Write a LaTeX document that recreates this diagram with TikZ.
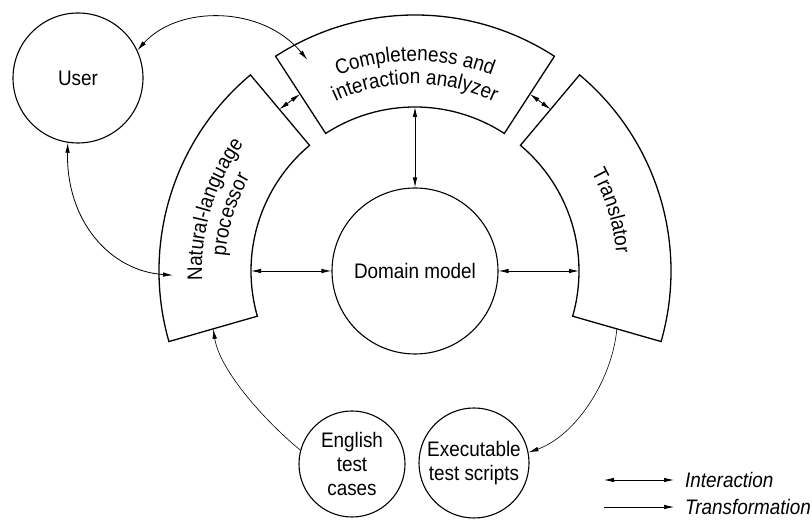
\documentclass[tikz,border=0pt]{standalone}
\usepackage{fontspec}
\setmainfont[FakeStretch=0.9]{Liberation Sans}
\usetikzlibrary{arrows.meta,calc,decorations.text}
\newcommand\dfont{\fontsize{21}{24}\selectfont}
\begin{document}
\begin{tikzpicture}[x=1pt,y=1pt,
  seg/.style={line width=1.3pt, line join=miter},
  circ/.style={draw, circle, line width=1.1pt, inner sep=0pt, align=center, font=\dfont},
  tip/.tip={Latex[length=10pt,width=4.5pt]},
  inter/.style={tip-tip, line width=0.8pt},
  trans/.style={-tip, line width=0.6pt},
  curvtext/.style={decorate, decoration={text along path, text align=center, text={|\dfont|#1}}}
]
\useasboundingbox (0,0) rectangle (812,521);
\coordinate (C) at (415,250);

% ring segments
\draw[seg] ($(C)+(57:164)$) arc[start angle=57,end angle=123,radius=164pt]
  -- ($(C)+(123:256)$) arc[start angle=123,end angle=57,radius=256pt] -- cycle;
\draw[seg] ($(C)+(130:164)$) arc[start angle=130,end angle=196,radius=164pt]
  -- ($(C)+(196:256)$) arc[start angle=196,end angle=130,radius=256pt] -- cycle;
\draw[seg] ($(C)+(-16:164)$) arc[start angle=-16,end angle=50,radius=164pt]
  -- ($(C)+(50:256)$) arc[start angle=50,end angle=-16,radius=256pt] -- cycle;

% segment labels
\path[curvtext={Completeness and}] ($(C)+(123:210)$) arc[start angle=123,end angle=57,radius=210pt];
\path[curvtext={interaction analyzer}] ($(C)+(123:187)$) arc[start angle=123,end angle=57,radius=187pt];
\path[curvtext={Natural-language}] ($(C)+(196:213)$) arc[start angle=196,end angle=130,radius=213pt];
\path[curvtext={processor}] ($(C)+(196:190)$) arc[start angle=196,end angle=130,radius=190pt];
\path[curvtext={Translator}] ($(C)+(50:202)$) arc[start angle=50,end angle=-16,radius=202pt];

% circles
\node[circ, minimum size=130pt] (user) at (78,443) {User};
\node[circ, minimum size=166pt] (dom) at (C) {Domain model};
\node[circ, minimum size=106pt] (eng) at (352,57) {English\\test\\cases};
\node[circ, minimum size=110pt] (exe) at (474,58) {Executable\\test scripts};

% connector end points
\coordinate (nlpTop) at ($(C)+(130:211)$);
\coordinate (anL) at ($(C)+(123:211)$);
\coordinate (anR) at ($(C)+(57:211)$);
\coordinate (trTop) at ($(C)+(50:211)$);
\coordinate (anIn) at ($(C)+(90:164)$);
\coordinate (nlpIn) at ($(C)+(180:164)$);
\coordinate (trIn) at ($(C)+(0:164)$);
\coordinate (anUser) at ($(C)+(117:237)$);
\coordinate (nlpUser) at ($(C)+(181:242)$);
\coordinate (nlpBot) at ($(C)+(196:210)$);
\coordinate (trBot) at ($(C)+(-16:210)$);

% connectors
\draw[inter] (user.25) .. controls (178,516) and (262,516) .. (anUser);
\draw[inter] (user.261) .. controls (66,300) and (110,250) .. (nlpUser);
\draw[inter] (nlpTop) -- (anL);
\draw[inter] (anR) -- (trTop);
\draw[inter] (anIn) -- (dom.north);
\draw[inter] (nlpIn) -- (dom.west);
\draw[inter] (dom.east) -- (trIn);
\draw[trans] (eng.165) .. controls (265,100) and (220,150) .. (nlpBot);
\draw[trans] (trBot) .. controls (612,140) and (575,85) .. (exe.11);

% legend
\coordinate (l1a) at (604,41);
\coordinate (l1b) at (674,41);
\coordinate (l2a) at (604,14);
\coordinate (l2b) at (674,14);
\draw[inter] (l1a) -- (l1b);
\draw[trans] (l2a) -- (l2b);
\node[anchor=west, inner sep=0pt, font=\dfont\itshape] (lint) at (685,41) {Interaction};
\node[anchor=west, inner sep=0pt, font=\dfont\itshape] (ltr) at (685,14) {Transformation};
\end{tikzpicture}
\end{document}
